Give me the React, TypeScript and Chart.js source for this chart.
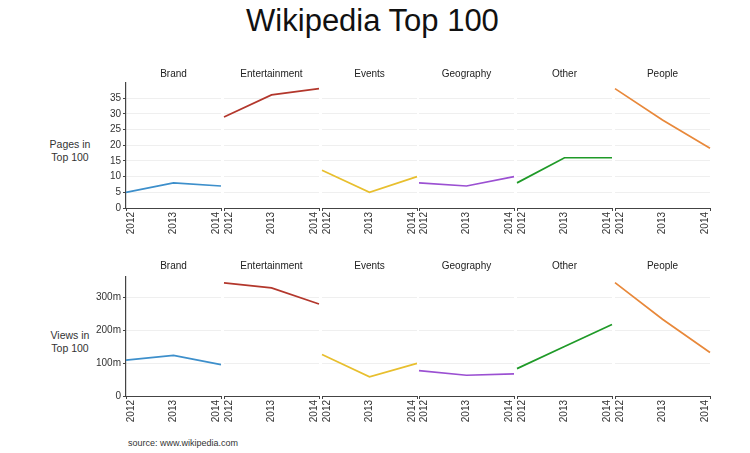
import React, { useEffect, useRef } from "react";
import { Chart, registerables } from "chart.js";

Chart.register(...registerables);

const FONT = '"Liberation Sans", Arial, Helvetica, sans-serif';
Chart.defaults.font.family = FONT;

// ---------- data ----------
const YEARS = ["2012", "2013", "2014"];
const CATEGORIES = ["Brand", "Entertainment", "Events", "Geography", "Other", "People"];
const COLORS = ["#3d8fcb", "#b3372c", "#e8bf2e", "#9b50d2", "#1f9a28", "#e8883a"];

// Pages in Top 100
const PAGES_BRAND = [5, 8, 7];
const PAGES_ENTERTAINMENT = [29, 36, 38];
const PAGES_EVENTS = [12, 5, 10];
const PAGES_GEOGRAPHY = [8, 7, 10];
const PAGES_OTHER = [8, 16, 16];
const PAGES_PEOPLE = [38, 28, 19];

// Views in Top 100 (millions)
const VIEWS_BRAND = [109, 123, 95];
const VIEWS_ENTERTAINMENT = [343, 328, 279];
const VIEWS_EVENTS = [126, 58, 99];
const VIEWS_GEOGRAPHY = [77, 63, 67];
const VIEWS_OTHER = [83, 150, 217];
const VIEWS_PEOPLE = [344, 233, 132];

const PAGES_MAX = 39.8;
const PAGES_STEP = 5;
const VIEWS_MAX = 361;
const VIEWS_STEP = 100;

// ---------- layout ----------
const LEFT0 = 126;
const PITCH = 97.8;
const PANEL_W = 95;
const SIDE_PAD = 16;
const Y_AXIS_W = 36;
const X_AXIS_H = 30;
const LABEL_SHIFT = 5; // first year label sits right of its tick, last one left

type RowCfg = {
  series: number[][];
  max: number;
  step: number;
  fmt: (v: number) => string;
  top: number;
  height: number;
  titleGap: number;
};

const ROW_PAGES: RowCfg = {
  series: [PAGES_BRAND, PAGES_ENTERTAINMENT, PAGES_EVENTS, PAGES_GEOGRAPHY, PAGES_OTHER, PAGES_PEOPLE],
  max: PAGES_MAX,
  step: PAGES_STEP,
  fmt: (v) => String(v),
  top: 60,
  height: 178,
  titleGap: 3,
};

const ROW_VIEWS: RowCfg = {
  series: [VIEWS_BRAND, VIEWS_ENTERTAINMENT, VIEWS_EVENTS, VIEWS_GEOGRAPHY, VIEWS_OTHER, VIEWS_PEOPLE],
  max: VIEWS_MAX,
  step: VIEWS_STEP,
  fmt: (v) => (v === 0 ? "0" : v + "m"),
  top: 252,
  height: 174,
  titleGap: 5,
};

function Panel({ idx, row }: { idx: number; row: RowCfg }) {
  const ref = useRef<HTMLCanvasElement>(null);
  const first = idx === 0;
  const left = first ? LEFT0 - Y_AXIS_W : LEFT0 + idx * PITCH - SIDE_PAD;
  const width = first ? Y_AXIS_W + PANEL_W + SIDE_PAD : PANEL_W + 2 * SIDE_PAD;

  useEffect(() => {
    const last = YEARS.length - 1;
    const chart = new Chart(ref.current as HTMLCanvasElement, {
      type: "line",
      data: {
        labels: YEARS,
        datasets: [
          {
            data: row.series[idx],
            borderColor: COLORS[idx],
            backgroundColor: COLORS[idx],
            borderWidth: 1.7,
            pointRadius: 0,
            fill: false,
            tension: 0,
            clip: false as any,
          },
        ],
      },
      options: {
        responsive: false,
        animation: false,
        devicePixelRatio: 1,
        layout: { padding: { left: first ? 0 : SIDE_PAD, right: SIDE_PAD, top: 0, bottom: 0 } },
        plugins: {
          legend: { display: false },
          tooltip: { enabled: false },
          title: {
            display: true,
            text: CATEGORIES[idx],
            fullSize: false,
            color: "#222",
            font: { size: 10, weight: "normal" as any, family: FONT },
            padding: { top: 8, bottom: row.titleGap },
          },
        },
        scales: {
          x: {
            type: "category",
            offset: false,
            grid: {
              display: true,
              drawOnChartArea: false,
              tickLength: 3,
              tickColor: (c: any) => (c.index === 1 ? "rgba(0,0,0,0)" : "#444"),
            },
            border: { display: true, color: "#444", dash: [1, 1] },
            ticks: {
              autoSkip: false,
              minRotation: 90,
              maxRotation: 90,
              padding: 1,
              color: "#333",
              labelOffset: -LABEL_SHIFT,
              callback: function (this: any, _v: any, i: number) {
                const lab = YEARS[i];
                return i === last ? lab : ["", lab];
              },
              font: (c: any) => ({
                size: 10,
                family: FONT,
                lineHeight:
                  c.index === 0 ? 2 * LABEL_SHIFT + "px" : c.index === last ? "12px" : LABEL_SHIFT + "px",
              }),
            },
            afterFit: (s: any) => {
              s.height = X_AXIS_H;
            },
          },
          y: {
            min: 0,
            max: row.max,
            ticks: {
              display: first,
              stepSize: row.step,
              includeBounds: false,
              padding: 2,
              color: "#333",
              font: { size: 10, family: FONT },
              callback: (v: any) => row.fmt(Number(v)),
            },
            grid: { color: "#efefef", drawTicks: first, tickLength: 3, tickColor: "#444" },
            border: { display: first, color: "#444", width: 1.2 },
            afterFit: (s: any) => {
              s.width = first ? Y_AXIS_W : 0;
            },
          },
        },
      } as any,
    });
    return () => chart.destroy();
  }, [idx, row]);

  return (
    <canvas
      ref={ref}
      width={width}
      height={row.height}
      style={{ position: "absolute", left, top: row.top, width, height: row.height }}
    />
  );
}

const labelStyle: React.CSSProperties = {
  position: "absolute",
  left: 30,
  width: 80,
  textAlign: "center",
  fontSize: 10.5,
  lineHeight: "13px",
  color: "#333",
  fontFamily: FONT,
};

export default function App() {
  return (
    <div
      style={{
        position: "absolute",
        left: 0,
        top: 0,
        width: 750,
        height: 453,
        background: "#fff",
        fontFamily: FONT,
        overflow: "hidden",
      }}
    >
      <div
        style={{
          position: "absolute",
          left: 0,
          width: 745,
          top: 5,
          textAlign: "center",
          fontSize: 31,
          lineHeight: "31px",
          color: "#111",
        }}
      >
        Wikipedia Top 100
      </div>
      <div style={{ ...labelStyle, top: 138 }}>
        Pages in
        <br />
        Top 100
      </div>
      <div style={{ ...labelStyle, top: 329 }}>
        Views in
        <br />
        Top 100
      </div>
      {CATEGORIES.map((_, i) => (
        <Panel key={"p" + i} idx={i} row={ROW_PAGES} />
      ))}
      {CATEGORIES.map((_, i) => (
        <Panel key={"v" + i} idx={i} row={ROW_VIEWS} />
      ))}
      <div
        style={{
          position: "absolute",
          left: 128,
          top: 438,
          fontSize: 9,
          lineHeight: "11px",
          color: "#333",
        }}
      >
        source: www.wikipedia.com
      </div>
    </div>
  );
}
